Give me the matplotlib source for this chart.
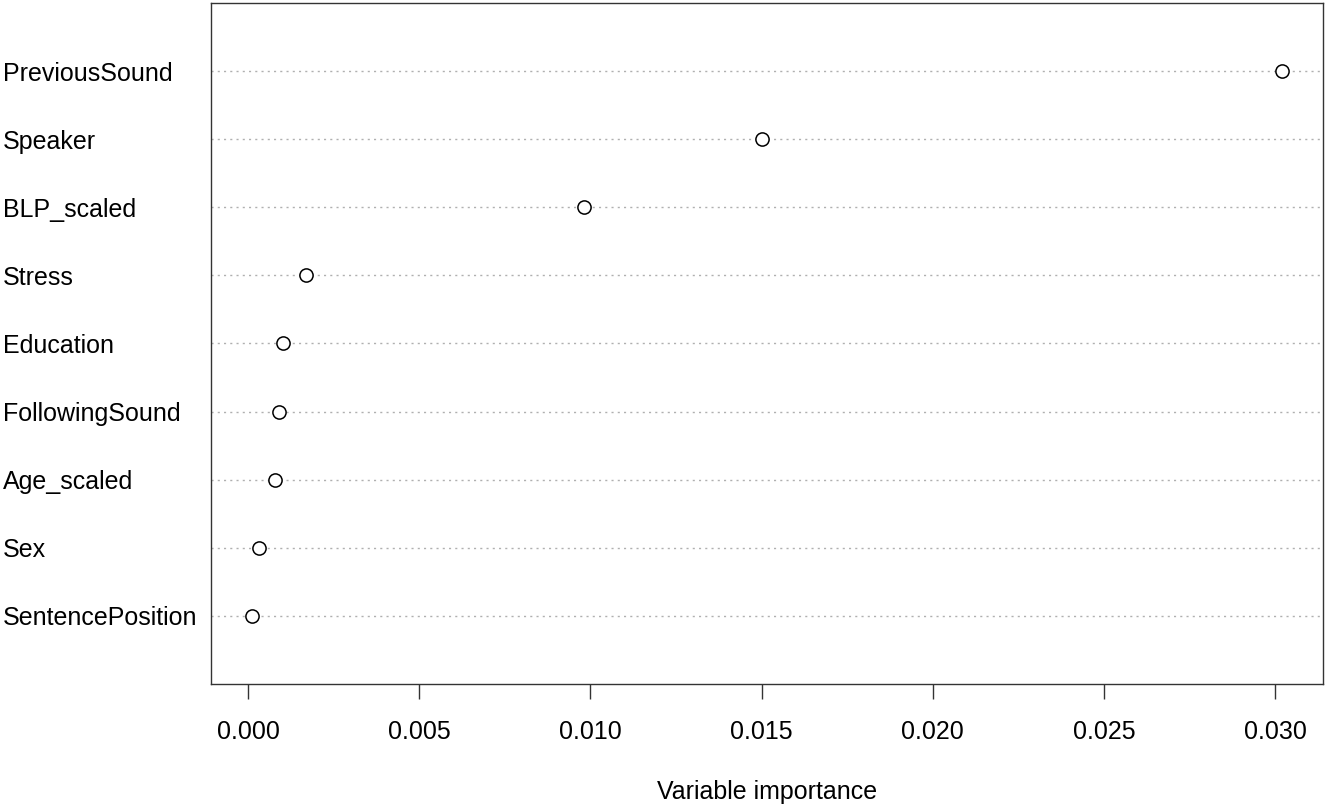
import matplotlib
matplotlib.use("Agg")
import matplotlib.pyplot as plt

variables = ["PreviousSound", "Speaker", "BLP_scaled", "Stress", "Education",
             "FollowingSound", "Age_scaled", "Sex", "SentencePosition"]
importance = [0.03020, 0.01500, 0.00981, 0.00169, 0.00102,
              0.00090, 0.00079, 0.00032, 0.00012]
xticks = [0.000, 0.005, 0.010, 0.015, 0.020, 0.025, 0.030]
xtick_labels = ["0.000", "0.005", "0.010", "0.015", "0.020", "0.025", "0.030"]

plt.rcParams['font.family'] = ['Liberation Sans', 'DejaVu Sans']

fig = plt.figure(figsize=(13.28, 8.07), dpi=100)
ax = fig.add_axes([211/1328, 1 - 684/807, (1323-211)/1328, (684-3)/807])

n = len(variables)
ypos = list(range(n, 0, -1))
for y in ypos:
    ax.axhline(y, color="#b0b0b0", linestyle=(0, (1.5, 3)), linewidth=1.0, zorder=1)
ax.plot(importance, ypos, linestyle="none", marker="o", markersize=9.5,
        markerfacecolor="white", markeredgecolor="black", markeredgewidth=1.1, zorder=3)

lo, hi = min(importance), max(importance)
pad = 0.04 * (hi - lo)
ax.set_xlim(lo - pad, hi + pad)
ax.set_ylim(0, n + 1)

ax.set_xticks(xticks)
ax.set_xticklabels(xtick_labels, fontsize=18)
ax.tick_params(axis='x', length=11, width=1.0, pad=15, color="#333333")
ax.set_yticks(ypos)
ax.set_yticklabels(variables, fontsize=18, ha='left')
ax.tick_params(axis='y', length=0, pad=150)

for s in ["top", "right", "left", "bottom"]:
    ax.spines[s].set_color("#333333")
    ax.spines[s].set_linewidth(1.0)

ax.set_xlabel("Variable importance", fontsize=18, labelpad=26)

fig.savefig("out.png", dpi=100)
